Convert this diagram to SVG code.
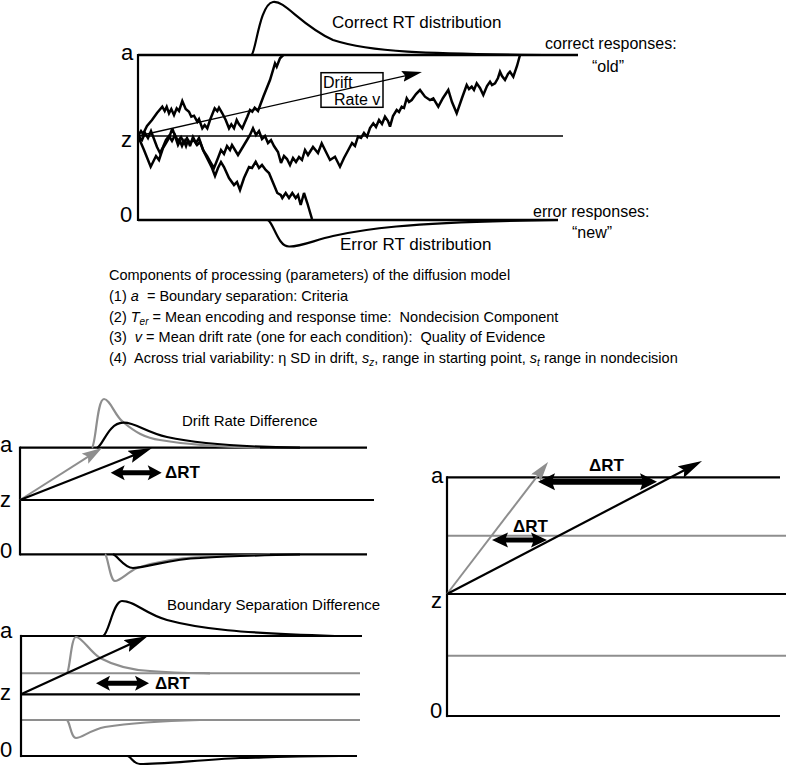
<svg xmlns="http://www.w3.org/2000/svg" width="786" height="766" viewBox="0 0 786 766">
<defs>
<style>
text{font-family:"Liberation Sans",Arial,Helvetica,sans-serif;fill:#000}
.lbl{font-size:22px}
.cap{font-size:17px}
.sm{font-size:15px}
.rsp{font-size:16px}
.lst{font-size:14.5px}
.drt{font-size:17px;font-weight:bold}
.ln{stroke:#000;fill:none}
.b1{stroke-width:1.5}
.b2{stroke-width:2.2}
.b3{stroke-width:2.6}
.gl{stroke:#8e8e8e;fill:none;stroke-width:2}
.walk{stroke:#000;fill:none;stroke-width:2.5;stroke-linejoin:miter;stroke-miterlimit:3}
.dist{stroke:#000;fill:none;stroke-width:2.2}
.gdist{stroke:#8e8e8e;fill:none;stroke-width:2.2}
.da{fill:#000}
</style>
<marker id="ahThin" markerUnits="userSpaceOnUse" viewBox="0 0 20 11" markerWidth="20" markerHeight="11" refX="14" refY="5.5" orient="auto"><path d="M0,0 L20,5.5 L0,11 L3,5.5 z" fill="#000"/></marker>
<marker id="ahB" markerUnits="userSpaceOnUse" viewBox="0 0 24 13" markerWidth="24" markerHeight="13" refX="18" refY="6.5" orient="auto"><path d="M0,0 L24,6.5 L0,13 L4,6.5 z" fill="#000"/></marker>
<marker id="ahG" markerUnits="userSpaceOnUse" viewBox="0 0 20 12" markerWidth="20" markerHeight="12" refX="14" refY="6" orient="auto"><path d="M0,0 L20,6 L0,12 L3.5,6 z" fill="#8e8e8e"/></marker>
</defs>
<rect width="786" height="766" fill="#fff"/>

<g id="top-panel">
<line class="ln b3" x1="138" y1="55" x2="578" y2="55"/>
<line class="ln b1" x1="138" y1="136" x2="563" y2="136"/>
<line class="ln b3" x1="138" y1="220" x2="558" y2="220"/>
<line class="ln b2" x1="138" y1="54" x2="138" y2="221"/>
<text class="lbl" x="121" y="60">a</text>
<text class="lbl" x="121" y="147">z</text>
<text class="lbl" x="120" y="222">0</text>
<path class="dist" d="M251.7,55 C256,50 260,4 273,2 C285,0 300,25 333,40 C370,52 420,54 557,55"/>
<path class="dist" d="M268,220 C274,224 278,246.5 289,246.5 C300,247 315,240 333,236 C360,230 400,222 557,220"/>
<text class="cap" x="332" y="28">Correct RT distribution</text>
<text class="cap" x="340" y="250">Error RT distribution</text>
<text class="rsp" x="545" y="49">correct responses:</text>
<text class="rsp" x="592" y="72">“old”</text>
<text class="rsp" x="533" y="217">error responses:</text>
<text class="rsp" x="572" y="238">“new”</text>
<polyline class="walk" points="138,136 141,131 143,134 147,126 152,120 157,113 162.3,106.7 164.7,111 166.7,106.7 169,113.3 171.3,109 174,115 176.7,108.3 179,111 182.3,101 185.7,109 189,111.7 191.3,116.7 194,115.7 197.3,121.7 199,119 202.3,128.3 204.7,125 207.3,128.3 210,120 214.7,108.3 217.3,111 219,107.7 222.3,113.3 225.7,120 229,128.3 231.3,124.3 234,128.3 236.7,120 239,124.3 242.3,128.3 247.3,116.7 250,110 252.3,111.7 254.7,107.7 258,111 263.3,96.7 270,80 275,63.3 276.7,66.7 280,58.3 283.3,55"/>
<polyline class="walk" points="138,136 144,150 150.7,166.7 156,156 159,160 163,148 166,143 169,138 172.3,128.3 175.7,138 178,145 180,141 182,146 184,141 186,146 188,140 190,146 193,137 196,143 199,138 203,150 207,156 211,163 214,168 218,158 221,150 224,154 227,146 230,150 232,145 235,150 238,155 241,150 244,145 247,140 250,135 253,128.3 256,135 259,131 262,139 265,136 268,143 271,140 274,146 278,152 281,163 284,156 287,159 290,165 293,158 296,162 299,157 302,160 305,150 308,155 313,147 318,153 321.7,143.3 326,152 330,160 335,156.7 340,166.7 344,158 348.3,150 352,143 355,146 358,136.7 361,138 364,133 367,136.7 370,128 373.3,123.3 376,127 379,120 382,124 385,116.7 388,121 390,126.7 393,116 396.7,110 399,112 401.7,106.7 404,108 406.7,98.3 409,102 411.7,100 416,94 420,90 425,96.7 430,100 433.3,98.3 438.3,106.7 443,98 448.3,90 452,102 456.7,113.3 462,98 466.7,85 469,89 471.7,86.7 474,90 476.7,83.3 480,88 483.3,95 487,86 490,81.7 492,85 495,83.3 498,78 500,71.7 502,76 505,80 508,74 510,71.7 513.3,76.7 517,66 520,55"/>
<polyline class="walk" points="138,136 142,140 145,133 148,138 151,131 154,139 157,147 160,153 163,147 166,140 169,136 172,141 175,135 178,141 181,137 184,143 187,138 190,144 193,139 197,145 200,142 204,152 208,160 212,168 215,176 218,168 221,162 224,167 229,178 234,185 237,182 240,190 244,178 249,167 252,168 255.7,161.7 259,168 262,165 265.7,170 269,173 274,185 277.3,193 280.7,195 282.3,198 285.7,193 289,198 292.3,193 295.7,198 298,195 300.7,205 304,193 307.3,203 312,219"/>
<line class="ln" stroke-width="1.3" x1="138" y1="136" x2="416.1" y2="73.3" marker-end="url(#ahThin)"/>
<rect x="321" y="72.7" width="62" height="34.6" fill="none" stroke="#000" stroke-width="1.5"/>
<text class="rsp" x="323" y="87.5">Drift</text>
<text class="rsp" x="334" y="105">Rate v</text>
</g>

<g id="parameter-list">
<text class="lst" x="109" y="280">Components of processing (parameters) of the diffusion model</text>
<text class="lst" x="109" y="301" xml:space="preserve">(1) <tspan font-style="italic">a</tspan>  = Boundary separation: Criteria</text>
<text class="lst" x="109" y="321.5" xml:space="preserve">(2) <tspan font-style="italic">T</tspan><tspan font-style="italic" font-size="10" dy="3">er</tspan><tspan dy="-3"> = Mean encoding and response time:  Nondecision Component</tspan></text>
<text class="lst" x="109" y="342" xml:space="preserve">(3)  <tspan font-style="italic">v</tspan> = Mean drift rate (one for each condition):  Quality of Evidence</text>
<text class="lst" x="109" y="362.5" xml:space="preserve">(4)  Across trial variability: η SD in drift, <tspan font-style="italic">s</tspan><tspan font-style="italic" font-size="10" dy="3">z</tspan><tspan dy="-3">, range in starting point, </tspan><tspan font-style="italic">s</tspan><tspan font-style="italic" font-size="10" dy="3">t</tspan><tspan dy="-3"> range in nondecision</tspan></text>
</g>

<g id="drift-rate-panel">
<line class="ln b2" x1="20" y1="447.7" x2="367" y2="447.7"/>
<line class="ln b2" x1="20" y1="500" x2="374" y2="500"/>
<line class="ln b2" x1="20" y1="554.3" x2="367" y2="554.3"/>
<line class="ln b2" x1="20" y1="446.6" x2="20" y2="555.4"/>
<text class="lbl" x="0" y="452">a</text>
<text class="lbl" x="0" y="507">z</text>
<text class="lbl" x="0" y="558">0</text>
<path class="gdist" d="M92,447.7 C96,444 97,399 104,399 C110,399 115,416 123,422 C135,432 145,438 160,440 C190,445 220,447 260,447.7"/>
<path class="dist" d="M97,447.7 C103,446 108,423 123,422.7 C135,422 145,432 167,437 C200,444 240,447 300,447.7"/>
<path class="gdist" d="M105,554.3 C108,556 110,581 115,581 C120,581 128,572 137,568 C155,562 175,558 200,557 C225,556 250,555 270,554.5"/>
<path class="dist" d="M113,554.3 C118,556 124,568 133,568 C150,567 170,559 200,558 C230,556 270,555 300,554.5"/>
<text class="sm" x="182" y="426">Drift Rate Difference</text>
<line class="gl" x1="20" y1="500" x2="96.9" y2="451.2" marker-end="url(#ahG)"/>
<line class="ln b2" x1="20" y1="500" x2="146.4" y2="450.2" marker-end="url(#ahB)"/>
<polygon class="da" points="110.7,472.7 124.7,465.2 122.7,470.2 149.7,470.2 147.7,465.2 161.7,472.7 147.7,480.2 149.7,475.2 122.7,475.2 124.7,480.2"/>
<text class="drt" x="165" y="478">ΔRT</text>
</g>

<g id="boundary-separation-panel">
<line class="ln b2" x1="21" y1="636" x2="362" y2="636"/>
<line class="gl" x1="21" y1="673.3" x2="360" y2="673.3"/>
<line class="ln b2" x1="21" y1="694.3" x2="360" y2="694.3"/>
<line class="gl" x1="21" y1="720" x2="360" y2="720"/>
<line class="ln b2" x1="21" y1="756" x2="357" y2="756"/>
<line class="ln b2" x1="21" y1="634.9" x2="21" y2="757.1"/>
<text class="lbl" x="0" y="638">a</text>
<text class="lbl" x="0" y="700">z</text>
<text class="lbl" x="0" y="757">0</text>
<path class="dist" d="M103,636 C109,634 113,601 122,601 C135,601 145,614 167,620 C200,629 240,633 335,636"/>
<path class="gdist" d="M67,673.3 C70,670 71,637 76,637 C82,637 90,652 100,658 C115,666 130,670 150,671 C175,673 190,673 210,673.3"/>
<path class="gdist" d="M67,720 C70,722 71,738 76,738 C82,738 90,730 105,727 C130,723 160,721 200,720"/>
<path class="dist" d="M128,756 C132,758 134,764 140,764 C160,764 200,760 240,758 C280,757 310,756 340,756"/>
<text class="sm" x="167" y="610">Boundary Separation Difference</text>
<line class="ln b2" x1="21" y1="694.3" x2="142.5" y2="638.5" marker-end="url(#ahB)"/>
<polygon class="da" points="96,683.3 110,675.8 108,680.8 137,680.8 135,675.8 149,683.3 135,690.8 137,685.8 108,685.8 110,690.8"/>
<text class="drt" x="155" y="689">ΔRT</text>
</g>

<g id="combined-panel">
<line class="ln b2" x1="447" y1="477.3" x2="780" y2="477.3"/>
<line class="gl" x1="447" y1="535.7" x2="786" y2="535.7"/>
<line class="ln b2" x1="447" y1="594" x2="786" y2="594"/>
<line class="gl" x1="447" y1="655.7" x2="786" y2="655.7"/>
<line class="ln b2" x1="447" y1="716" x2="780" y2="716"/>
<line class="ln b2" x1="447" y1="476.2" x2="447" y2="717.1"/>
<text class="lbl" x="431" y="483">a</text>
<text class="lbl" x="431" y="608">z</text>
<text class="lbl" x="430" y="718">0</text>
<line class="gl" x1="447" y1="594" x2="544.4" y2="466.8" marker-end="url(#ahG)"/>
<line class="ln b2" x1="447" y1="594" x2="696.7" y2="463.8" marker-end="url(#ahB)"/>
<polygon class="da" points="538,481.7 555,473.2 553,478.7 642,478.7 640,473.2 657,481.7 640,490.2 642,484.7 553,484.7 555,490.2"/>
<text class="drt" x="589" y="470.5">ΔRT</text>
<polygon class="da" points="492,540 508,532.5 506,537.5 533,537.5 531,532.5 547,540 531,547.5 533,542.5 506,542.5 508,547.5"/>
<text class="drt" x="513" y="531.5">ΔRT</text>
</g>
</svg>
